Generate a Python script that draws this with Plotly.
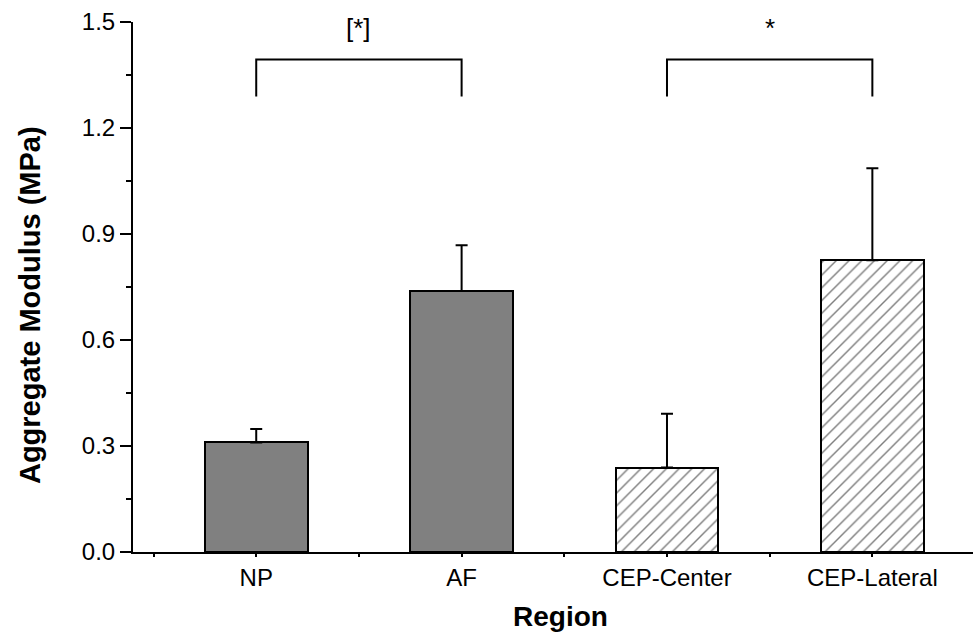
import plotly.graph_objects as go

# Regions and measured aggregate modulus (MPa): mean and upper SD
categories = ["NP", "AF", "CEP-Center", "CEP-Lateral"]
modulus = [0.310, 0.739, 0.239, 0.826]
sd = [0.038, 0.129, 0.152, 0.260]
hatched = [False, False, True, True]

# Significance brackets: (left region, right region, label)
brackets = [("NP", "AF", "[*]"), ("CEP-Center", "CEP-Lateral", "*")]
bracket_top = 1.394
bracket_leg = 1.289
label_y = 1.483

yticks = [0.0, 0.3, 0.6, 0.9, 1.2, 1.5]

pos = {c: i for i, c in enumerate(categories)}
xs = [pos[c] for c in categories]

FONT = "Liberation Sans, Arial, sans-serif"

fig = go.Figure()

for i, c in enumerate(categories):
    if hatched[i]:
        marker = dict(color="white",
                      line=dict(color="black", width=2),
                      pattern=dict(shape="/", size=9, solidity=0.16,
                                   fgcolor="black", bgcolor="white"))
    else:
        marker = dict(color="#808080", line=dict(color="black", width=2))
    fig.add_trace(go.Bar(
        x=[xs[i]], y=[modulus[i]], width=0.5, marker=marker,
        error_y=dict(type="data", symmetric=False, array=[sd[i]],
                     arrayminus=[0], color="black", thickness=2, width=6),
        showlegend=False,
    ))

for a, b, lab in brackets:
    xa, xb = pos[a], pos[b]
    fig.add_trace(go.Scatter(
        x=[xa, xa, xb, xb], y=[bracket_leg, bracket_top, bracket_top, bracket_leg],
        mode="lines", line=dict(color="black", width=2), showlegend=False,
        hoverinfo="skip",
    ))
    fig.add_annotation(x=(xa + xb) / 2, y=label_y, text=lab, showarrow=False,
                       font=dict(size=26, color="black", family=FONT))

# Axis titles placed as paper-anchored annotations
fig.add_annotation(xref="paper", yref="paper", x=-0.1226, y=0.466,
                   xanchor="center", yanchor="middle", textangle=-90,
                   text="<b>Aggregate Modulus (MPa)</b>", showarrow=False,
                   font=dict(size=29, color="black", family=FONT))
fig.add_annotation(xref="paper", yref="paper", x=0.5095, y=-0.1226,
                   xanchor="center", yanchor="middle",
                   text="<b>Region</b>", showarrow=False,
                   font=dict(size=28, color="black", family=FONT))

fig.update_layout(
    width=973, height=643,
    margin=dict(l=133, r=0, t=22, b=91),
    plot_bgcolor="white", paper_bgcolor="white",
    font=dict(family=FONT, color="black", size=24),
    bargap=0,
)

fig.update_xaxes(
    range=[-0.6, 3.49], tickvals=xs, ticktext=categories,
    showline=True, linecolor="black", linewidth=2, showgrid=False, zeroline=False,
    ticks="outside", ticklen=3, tickwidth=2, tickcolor="black",
    minor=dict(tick0=-0.5, dtick=1, ticks="outside", ticklen=3, tickwidth=2,
               tickcolor="black", showgrid=False),
    tickfont=dict(size=24),
)

fig.update_yaxes(
    range=[0, 1.5], tickvals=yticks, ticktext=[f"{v:.1f}" for v in yticks],
    showline=True, linecolor="black", linewidth=2, showgrid=False, zeroline=False,
    ticks="outside", ticklen=11, tickwidth=2, tickcolor="black",
    minor=dict(dtick=0.15, ticks="outside", ticklen=5, tickwidth=2,
               tickcolor="black", showgrid=False),
    tickfont=dict(size=24),
)

fig.write_html("out.html")
